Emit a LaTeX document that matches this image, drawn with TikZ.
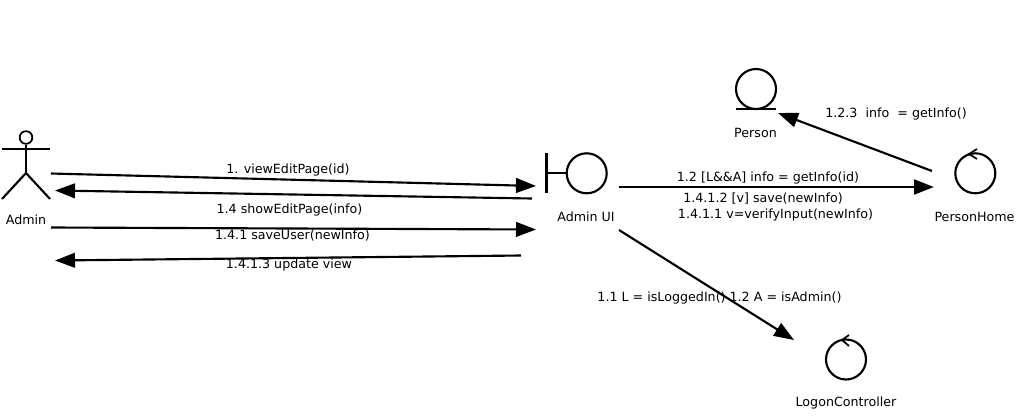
\documentclass[tikz,border=0pt]{standalone}
\usepackage{fontspec}
\setmainfont{DejaVu Sans}
\usetikzlibrary{arrows.meta}
\tikzset{
  lbl/.style={inner sep=0pt,yshift=-0.75pt,font=\fontsize{9.5pt}{11pt}\selectfont,text=black},
  sym/.style={line width=1.6pt,black},
  ring/.style={draw,circle,line width=1.6pt,minimum size=30pt,inner sep=0pt},
  msg/.style={line width=1.6pt,-{Triangle[length=15pt,width=11pt]}},
}
\begin{document}
\begin{tikzpicture}[x=0.75pt,y=-0.75pt]
\useasboundingbox (0,0) rectangle (1017,415);
% Admin actor
\node[draw,circle,line width=1.3pt,minimum size=9.5pt,inner sep=0pt] (adminhead) at (26,137.5) {};
\coordinate (adminhip) at (26,173);
\coordinate (adminarml) at (2,149);
\coordinate (adminarmr) at (50,149);
\coordinate (adminlegl) at (2,199);
\coordinate (adminlegr) at (50,199);
\draw[sym] (adminhead) -- (adminhip);
\draw[sym] (adminarml) -- (adminarmr);
\draw[sym] (adminlegl) -- (adminhip) -- (adminlegr);
\node[lbl] (adminlbl) at (26,219) {Admin};
% Admin UI boundary
\node[ring] (ui) at (586.7,173.3) {};
\coordinate (uibart) at (546.5,153);
\coordinate (uibarb) at (546.5,193);
\coordinate (uibarm) at (546.5,173.3);
\draw[sym] (uibart) -- (uibarb);
\draw[sym] (uibarm) -- (ui);
\node[lbl] (uilbl) at (586,216) {Admin UI};
% Person entity
\node[ring] (person) at (756,89) {};
\coordinate (personl) at (736,109.3);
\coordinate (personr) at (776,109.3);
\draw[sym] (personl) -- (personr);
\node[lbl] (personlbl) at (755.5,132) {Person};
% PersonHome control
\node[ring] (home) at (975.3,173.3) {};
\coordinate (homea) at (977,149);
\coordinate (homeb) at (969,154);
\coordinate (homec) at (977,159);
\draw[line width=1.3pt] (homea) -- (homeb) -- (homec);
\node[lbl] (homelbl) at (974.5,216) {PersonHome};
% LogonController control
\node[ring] (logon) at (846,359.5) {};
\coordinate (logona) at (849,335);
\coordinate (logonb) at (842,340);
\coordinate (logonc) at (849,346);
\draw[line width=1.3pt] (logona) -- (logonb) -- (logonc);
\node[lbl] (logonlbl) at (846,402) {LogonController};
% Connector ends
\coordinate (a1) at (51,173.5);
\coordinate (u1) at (536,186);
\coordinate (u2) at (532,198.5);
\coordinate (a2) at (55,190.5);
\coordinate (a3) at (51,227.5);
\coordinate (u3) at (536,229.5);
\coordinate (u4) at (521,255.5);
\coordinate (a4) at (55,260.5);
\coordinate (u5) at (619,187);
\coordinate (h5) at (934,187);
\coordinate (h6) at (932,171);
\coordinate (p6) at (778,113);
\coordinate (u7) at (619,230);
\coordinate (l7) at (794,340);
\draw[msg] (a1) -- (u1);
\draw[msg] (u2) -- (a2);
\draw[msg] (a3) -- (u3);
\draw[msg] (u4) -- (a4);
\draw[msg,line width=2.2pt] (u5) -- (h5);
\draw[msg] (h6) -- (p6);
\draw[msg] (u7) -- (l7);
% Labels
\node[lbl] (m1) at (288,169) {1. viewEditPage(id)};
\node[lbl] (m2) at (289.5,209) {1.4 showEditPage(info)};
\node[lbl] (m3) at (292.5,235) {1.4.1 saveUser(newInfo)};
\node[lbl] (m4) at (289,264) {1.4.1.3 update view};
\node[lbl] (m5) at (768,177) {1.2 [L\&\&A] info = getInfo(id)};
\node[lbl] (m6) at (763,198) {1.4.1.2 [v] save(newInfo)};
\node[lbl] (m7) at (775.5,214) {1.4.1.1 v=verifyInput(newInfo)};
\node[lbl] (m8) at (896,113) {1.2.3\ \ info\ \ = getInfo()};
\node[lbl] (m9) at (719.5,297) {1.1 L = isLoggedIn() 1.2 A = isAdmin()};
\end{tikzpicture}
\end{document}
